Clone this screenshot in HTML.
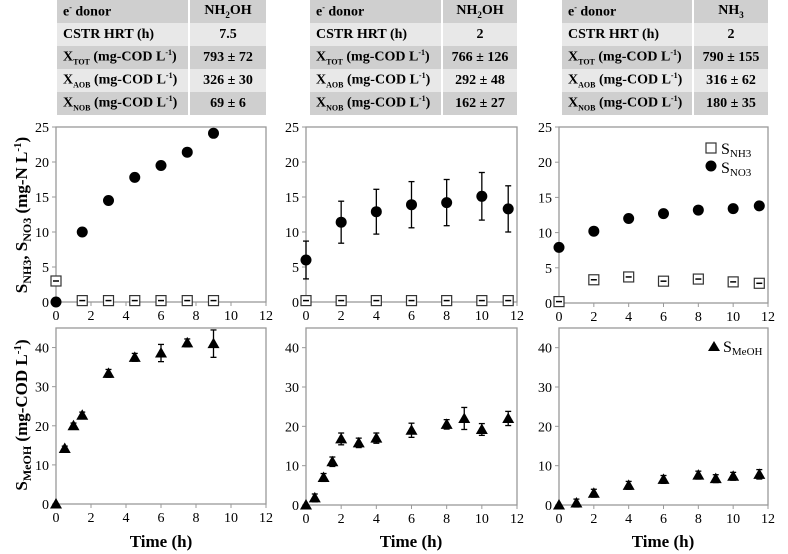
<!DOCTYPE html>
<html><head><meta charset="utf-8">
<style>
body{margin:0;background:#fff;width:788px;height:554px;overflow:hidden;font-family:"Liberation Serif",serif;}
.tbl{position:absolute;border-collapse:collapse;font-weight:bold;font-size:14px;font-family:"Liberation Serif",serif;}
.tbl td{height:23px;padding:0 0 0 6px;border-right:2px solid #fff;}
.tbl td.v{text-align:center;padding:0;border:none}
.tbl tr.d td{background:#cfcfcf}
.tbl tr.l td{background:#e8e8e8}
svg text{font-family:"Liberation Serif",serif}
</style></head><body>
<table class="tbl" style="left:57px;top:0;width:209px">
<tr class="d"><td style="width:125px">e<sup style="font-size:8px">-</sup> donor</td><td class="v">NH<sub style="font-size:9px">2</sub>OH</td></tr>
<tr class="l"><td>CSTR HRT (h)</td><td class="v">7.5</td></tr>
<tr class="d"><td>X<sub style="font-size:8px">TOT</sub> (mg-COD L<sup style="font-size:8px">-1</sup>)</td><td class="v">793 ± 72</td></tr>
<tr class="l"><td>X<sub style="font-size:8px">AOB</sub> (mg-COD L<sup style="font-size:8px">-1</sup>)</td><td class="v">326 ± 30</td></tr>
<tr class="d"><td>X<sub style="font-size:8px">NOB</sub> (mg-COD L<sup style="font-size:8px">-1</sup>)</td><td class="v">69 ± 6</td></tr>
</table>
<table class="tbl" style="left:310px;top:0;width:207px">
<tr class="d"><td style="width:125px">e<sup style="font-size:8px">-</sup> donor</td><td class="v">NH<sub style="font-size:9px">2</sub>OH</td></tr>
<tr class="l"><td>CSTR HRT (h)</td><td class="v">2</td></tr>
<tr class="d"><td>X<sub style="font-size:8px">TOT</sub> (mg-COD L<sup style="font-size:8px">-1</sup>)</td><td class="v">766 ± 126</td></tr>
<tr class="l"><td>X<sub style="font-size:8px">AOB</sub> (mg-COD L<sup style="font-size:8px">-1</sup>)</td><td class="v">292 ± 48</td></tr>
<tr class="d"><td>X<sub style="font-size:8px">NOB</sub> (mg-COD L<sup style="font-size:8px">-1</sup>)</td><td class="v">162 ± 27</td></tr>
</table>
<table class="tbl" style="left:562px;top:0;width:206px">
<tr class="d"><td style="width:124px">e<sup style="font-size:8px">-</sup> donor</td><td class="v">NH<sub style="font-size:9px">3</sub></td></tr>
<tr class="l"><td>CSTR HRT (h)</td><td class="v">2</td></tr>
<tr class="d"><td>X<sub style="font-size:8px">TOT</sub> (mg-COD L<sup style="font-size:8px">-1</sup>)</td><td class="v">790 ± 155</td></tr>
<tr class="l"><td>X<sub style="font-size:8px">AOB</sub> (mg-COD L<sup style="font-size:8px">-1</sup>)</td><td class="v">316 ± 62</td></tr>
<tr class="d"><td>X<sub style="font-size:8px">NOB</sub> (mg-COD L<sup style="font-size:8px">-1</sup>)</td><td class="v">180 ± 35</td></tr>
</table>
<svg id="c" width="788" height="554" style="position:absolute;left:0;top:0">
<text transform="translate(27,215) rotate(-90)" text-anchor="middle" font-size="17" font-weight="bold">S<tspan font-size="12" dy="4">NH3</tspan><tspan dy="-4">, S</tspan><tspan font-size="12" dy="4">NO3</tspan><tspan dy="-4"> (mg-N L</tspan><tspan font-size="11" dy="-6">-1</tspan><tspan dy="6">)</tspan></text>
<text transform="translate(27,415) rotate(-90)" text-anchor="middle" font-size="17" font-weight="bold">S<tspan font-size="12" dy="4">MeOH</tspan><tspan dy="-4"> (mg-COD L</tspan><tspan font-size="11" dy="-6">-1</tspan><tspan dy="6">)</tspan></text>
</svg>
<script>
const p1X = [0,1.5,3,4.5,6,7.5,9];
const p1NO3 = [0,10,14.5,17.8,19.5,21.4,24.1];
const p1NH3 = [3,0.2,0.2,0.2,0.2,0.2,0.2];
const p2X = [0,2,4,6,8,10,11.5];
const p2NO3 = [6,11.4,12.9,13.9,14.2,15.1,13.3];
const p2NO3err = [2.7,3,3.2,3.3,3.3,3.4,3.3];
const p2NH3 = [0.2,0.2,0.2,0.2,0.2,0.2,0.2];
const p3X = [0,2,4,6,8,10,11.5];
const p3NO3 = [7.9,10.2,12,12.7,13.2,13.4,13.8];
const p3NH3 = [0.2,3.3,3.7,3.1,3.4,3,2.8];
const b1X = [0,0.5,1,1.5,3,4.5,6,7.5,9];
const b1MeOH = [0,14.2,20,22.7,33.4,37.5,38.6,41.2,41];
const b1err = [0,0.6,0.7,0.8,1,1,2.2,1,3.5];
const b2X = [0,0.5,1,1.5,2,3,4,6,8,9,10,11.5];
const b2MeOH = [0,1.8,7,11,16.8,15.8,17,19,20.5,22,19.2,22];
const b2err = [0,1,1,1.2,1.5,1.2,1.3,1.8,1.2,2.8,1.5,1.8];
const b3X = [0,1,2,4,6,8,9,10,11.5];
const b3MeOH = [0,0.5,3,5,6.5,7.6,6.7,7.3,7.8];
const b3err = [0,1,1,1,1,1,1,1,1.2];
const xTicks = [0,2,4,6,8,10,12];
const topYTicks = [0,5,10,15,20,25];
const botYTicks = [0,10,20,30,40];

const svg = document.getElementById('c');
const NS = 'http://www.w3.org/2000/svg';
function mk(tag, at, parent){const e=document.createElementNS(NS,tag);for(const k in at)e.setAttribute(k,at[k]);(parent||svg).appendChild(e);return e;}
function axes(x0,x1,y0,y1,ymax,yt,name){
  const g=mk('g',{});
  
  
  const sx=v=>x0+(x1-x0)*v/12, sy=v=>y0-(y0-y1)*v/ymax;
  mk('rect',{x:x0,y:y1,width:x1-x0,height:y0-y1,fill:'none',stroke:'#999','stroke-width':1.3},g);
  xTicks.forEach(t=>{mk('line',{x1:sx(t),x2:sx(t),y1:y0,y2:y0+4,stroke:'#999'},g);
    const tx=mk('text',{x:sx(t),y:y0+18,'text-anchor':'middle','font-size':14},g);tx.textContent=t;
    
    });
  yt.forEach(t=>{mk('line',{x1:x0-4,x2:x0,y1:sy(t),y2:sy(t),stroke:'#999'},g);
    const tx=mk('text',{x:x0-7,y:sy(t)+5,'text-anchor':'end','font-size':14},g);tx.textContent=t;
    
    });
  return {sx,sy,g};
}
function err(a,x,y,e){ if(!e)return; const X=a.sx(x);
  mk('line',{x1:X,x2:X,y1:a.sy(y-e),y2:a.sy(y+e),stroke:'#000','stroke-width':1.3},a.g);
  [y-e,y+e].forEach(v=>mk('line',{x1:X-3,x2:X+3,y1:a.sy(v),y2:a.sy(v),stroke:'#000','stroke-width':1.3},a.g));}
function circles(a,xs,ys,es){xs.forEach((x,i)=>{ if(es)err(a,x,ys[i],es[i]);
  const c=mk('circle',{cx:a.sx(x),cy:a.sy(ys[i]),r:5.5,fill:'#000'},a.g);
  
  });}
function squares(a,xs,ys){xs.forEach((x,i)=>{const X=a.sx(x),Y=a.sy(ys[i]);
  const r=mk('rect',{x:X-5,y:Y-5,width:10,height:10,fill:'#fff',stroke:'#333','stroke-width':1.2},a.g);
  
  
  mk('line',{x1:X-3,x2:X+3,y1:Y,y2:Y,stroke:'#000','stroke-width':1.5},a.g);});}
function tris(a,xs,ys,es){xs.forEach((x,i)=>{ err(a,x,ys[i],es[i]); const X=a.sx(x),Y=a.sy(ys[i]);
  const p=mk('polygon',{points:`${X-6},${Y+4.5} ${X+6},${Y+4.5} ${X},${Y-6}`,fill:'#000'},a.g);
  
  });}

const T1=axes(56,266,302,127,25,topYTicks,'panel-1-nitrogen');
squares(T1,p1X,p1NH3); circles(T1,p1X,p1NO3);
const T2=axes(306,517,302,127,25,topYTicks,'panel-2-nitrogen');
squares(T2,p2X,p2NH3); circles(T2,p2X,p2NO3,p2NO3err);
const T3=axes(559,768,303,127,25,topYTicks,'panel-3-nitrogen');
squares(T3,p3X,p3NH3); circles(T3,p3X,p3NO3);
const B1=axes(56,266,504,328,45,botYTicks,'panel-1-methanol');
tris(B1,b1X,b1MeOH,b1err);
const B2=axes(306,517,505,328,45,botYTicks,'panel-2-methanol');
tris(B2,b2X,b2MeOH,b2err);
const B3=axes(559,768,505,328,45,botYTicks,'panel-3-methanol');
tris(B3,b3X,b3MeOH,b3err);

const lg=mk('g',{});


mk('rect',{x:706,y:143,width:10,height:10,fill:'#fff',stroke:'#333','stroke-width':1.2},lg);
mk('circle',{cx:711,cy:166,r:5.5,fill:'#000'},lg);
let t=mk('text',{x:721,y:154,'font-size':16},lg); t.innerHTML='S<tspan font-size="11" dy="3">NH3</tspan>';
t=mk('text',{x:721,y:173,'font-size':16},lg); t.innerHTML='S<tspan font-size="11" dy="3">NO3</tspan>';
mk('polygon',{points:'708,351 720,351 714,341',fill:'#000'},lg);
t=mk('text',{x:723,y:352,'font-size':16},lg); t.innerHTML='S<tspan font-size="11" dy="3">MeOH</tspan>';
[[161,'x-axis-title-1'],[411,'x-axis-title-2'],[663,'x-axis-title-3']].forEach(([x,n])=>{
  const e=mk('text',{x:x,y:547,'text-anchor':'middle','font-size':17,'font-weight':'bold'});
  e.textContent='Time (h)';
  
  
});
</script>
</body></html>
